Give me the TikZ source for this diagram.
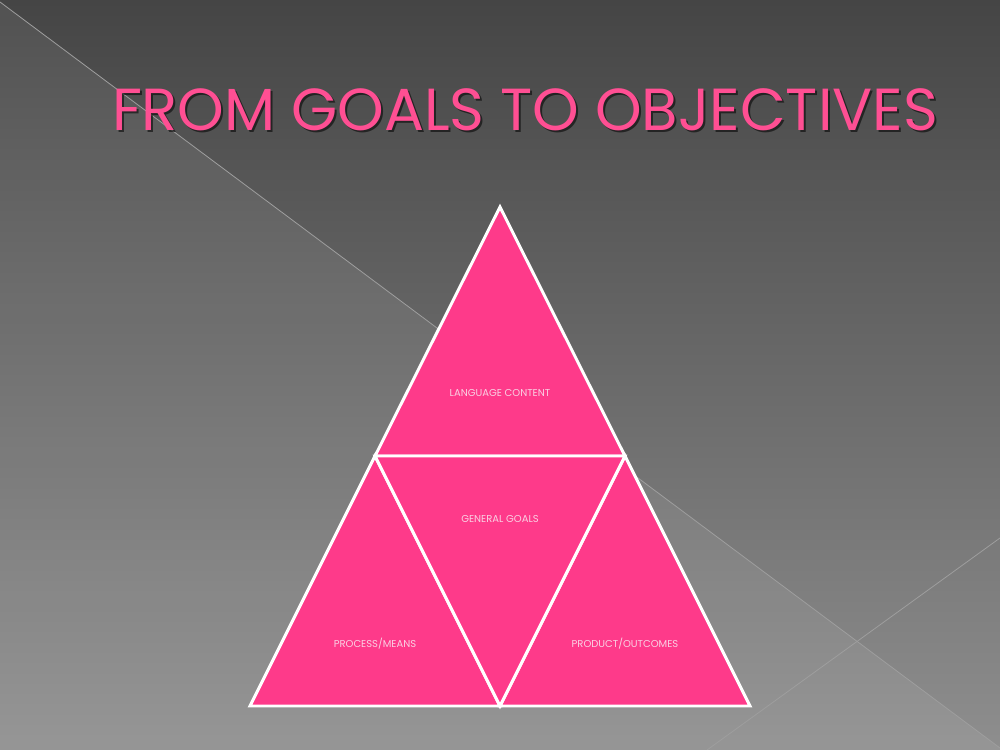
\documentclass[tikz,border=0pt]{standalone}
\usepackage{fontspec}
\setmainfont{Poppins}
\usetikzlibrary{positioning}

\definecolor{slidetop}{HTML}{454545}
\definecolor{slidebot}{HTML}{8E8E8E}
\definecolor{hotpink}{HTML}{FE3A8A}
\definecolor{titlepink}{HTML}{FF4F93}
\definecolor{lblpink}{HTML}{FAD0E3}

\begin{document}
\begin{tikzpicture}[x=0.75pt,y=-0.75pt,
    tri/.style={fill=hotpink, draw=white, line width=2.2pt, line join=miter},
    lbl/.style={text=lblpink, font=\fontsize{7.5}{8}\selectfont},
    head/.style={anchor=base, font=\fontsize{44.5}{45}\selectfont},
    seam/.style={draw=white!62!black, line width=0.6pt}]
    \useasboundingbox (0,0) rectangle (1000,750);

    % slide background
    \shade[top color=slidetop, bottom color=slidebot] (0,0) rectangle (1000,750);
    \fill[white, opacity=0.07] (0,2) -- (1000,748) -- (1000,750) -- (0,750) -- cycle;
    \draw[seam] (0,2) -- (1000,748);
    \draw[seam] (707,750) -- (1000,538);

    % title
    \node[head, text=black, opacity=0.55] (shadow) at (527,132) {FROM GOALS TO OBJECTIVES};
    \node[head, text=titlepink] (title) at (525,130) {FROM GOALS TO OBJECTIVES};

    % pyramid corners
    \coordinate (top) at (500,207);
    \coordinate (bl) at (250,706);
    \coordinate (br) at (750,706);
    \coordinate (ml) at (375,456);
    \coordinate (mr) at (625,456);
    \coordinate (mb) at (500,706);

    \filldraw[tri] (top) -- (ml) -- (mr) -- cycle;
    \filldraw[tri] (ml) -- (bl) -- (mb) -- cycle;
    \filldraw[tri] (mr) -- (mb) -- (br) -- cycle;
    \filldraw[tri] (ml) -- (mr) -- (mb) -- cycle;

    \node[lbl] (content) at (500,393) {LANGUAGE CONTENT};
    \node[lbl] (goals) at (500,519) {GENERAL GOALS};
    \node[lbl] (process) at (375,644) {PROCESS/MEANS};
    \node[lbl] (product) at (625,644) {PRODUCT/OUTCOMES};
\end{tikzpicture}
\end{document}
